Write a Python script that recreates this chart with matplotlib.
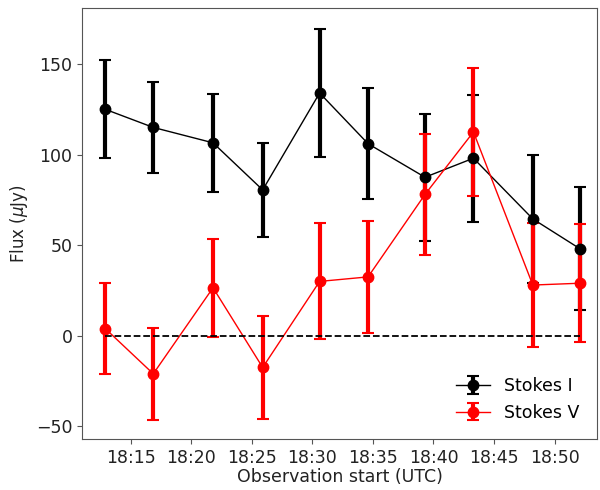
import pandas as pd
import matplotlib
matplotlib.use('Agg')
import matplotlib.pyplot as plt
import matplotlib.dates as mdates

# Inicio de cada observacion (UTC)
inicios = ['18:12:54', '18:16:52', '18:21:48', '18:25:54', '18:30:36',
           '18:34:36', '18:39:18', '18:43:18', '18:48:12', '18:52:06']

stokes_i = [125, 115, 106.5, 80.5, 134, 106, 87.5, 98, 64.5, 48]
err_i = [27, 25, 27, 26, 35.5, 30.5, 35, 35, 35.5, 34]

stokes_v = [4, -21, 26.5, -17.5, 30, 32.5, 78, 112.5, 28, 29]
err_v = [25, 25.5, 27, 28.5, 32, 31, 33.5, 35.5, 34, 32.5]

tiempos = pd.to_datetime(['2023-01-01 ' + t for t in inicios])

fig = plt.figure(figsize=(6, 4.9), dpi=100)
ax = fig.add_axes([0.137, 0.104, 0.858, 0.880])

ax.errorbar(tiempos, stokes_i, yerr=err_i, fmt='o-', color='black', markersize=7.5,
            linewidth=1, elinewidth=3, capsize=4, capthick=1.5, label='Stokes I')
ax.errorbar(tiempos, stokes_v, yerr=err_v, fmt='o-', color='red', markersize=7.5,
            linewidth=1, elinewidth=3, capsize=4, capthick=1.5, label='Stokes V')
ax.hlines(0, tiempos[0], tiempos[-1], colors='black', linestyles='--', linewidth=1.3, zorder=5)

ax.set_xlim(pd.Timestamp('2023-01-01 18:11:00'), pd.Timestamp('2023-01-01 18:53:30'))
ax.set_ylim(-57, 181)
ax.set_yticks([-50, 0, 50, 100, 150])
ax.xaxis.set_major_locator(mdates.MinuteLocator(byminute=range(15, 55, 5)))
ax.xaxis.set_major_formatter(mdates.DateFormatter('%H:%M'))

ax.set_xlabel('Observation start (UTC)', fontsize=12.5, labelpad=1, color='#222222')
ax.set_ylabel(r'Flux ($\mu$Jy)', fontsize=12, color='#222222')
ax.tick_params(labelsize=12.5, labelcolor='#222222', color='#555555')
for s in ax.spines.values():
    s.set_color('#555555')

ax.legend(loc='lower right', frameon=False, fontsize=12.5, borderaxespad=0.6)

fig.savefig('out.png', dpi=100)
